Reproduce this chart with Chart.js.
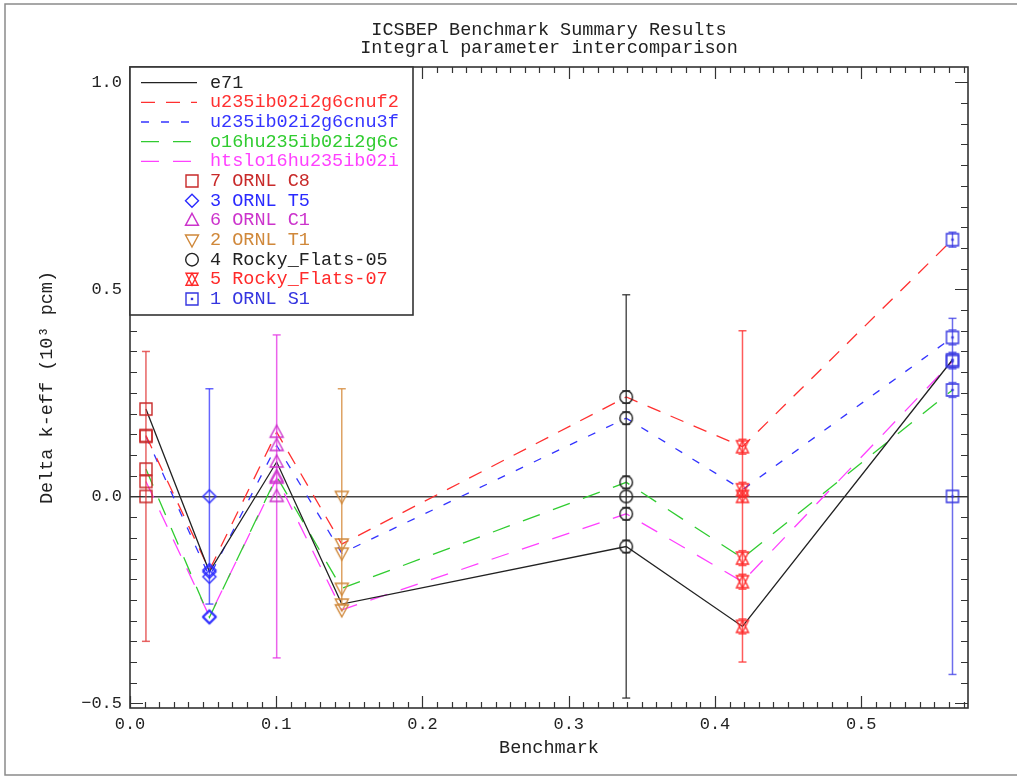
<!DOCTYPE html>
<html><head><meta charset="utf-8">
<script src="https://cdn.jsdelivr.net/npm/chart.js@4.4.0/dist/chart.umd.min.js"></script>
<style>html,body{margin:0;padding:0;background:#fff;}#wrap{width:1017px;height:776px;}</style>
</head><body><div id="wrap"><canvas id="c" width="1017" height="776"></canvas></div>
<script>
// ---------- data ----------
const titleLines = ['ICSBEP Benchmark Summary Results', 'Integral parameter intercomparison'];
const xTitle = 'Benchmark';
const yTitle = 'Delta k-eff (10\u00B3 pcm)';
const xTickLabels = ['0.0', '0.1', '0.2', '0.3', '0.4', '0.5'];
const yTickLabels = ['\u22120.5', '0.0', '0.5', '1.0'];

const benchNames = ['7 ORNL C8', '3 ORNL T5', '6 ORNL C1', '2 ORNL T1', '4 Rocky_Flats-05', '5 Rocky_Flats-07', '1 ORNL S1'];
const benchX = [0.0109, 0.0543, 0.1003, 0.1448, 0.3393, 0.4188, 0.5624];
const expValues = [0, 0, 0, 0, 0, 0, 0];
const expErrors = [0.35, 0.26, 0.39, 0.26, 0.487, 0.40, 0.43];
const calcErrors = [0, 0, 0, 0, 0.015, 0.018, 0.018];

const libNames = ['e71', 'u235ib02i2g6cnuf2', 'u235ib02i2g6cnu3f', 'o16hu235ib02i2g6c', 'htslo16hu235ib02i'];
const e71 = [0.211, -0.182, 0.083, -0.260, -0.121, -0.314, 0.330];
const cnuf2 = [0.147, -0.178, 0.155, -0.115, 0.240, 0.120, 0.620];
const cnu3f = [0.145, -0.194, 0.123, -0.137, 0.189, 0.016, 0.384];
const o16 = [0.066, -0.292, 0.048, -0.222, 0.034, -0.149, 0.257];
const htslo = [0.036, -0.290, 0.044, -0.274, -0.042, -0.206, 0.326];
const libValues = [e71, cnuf2, cnu3f, o16, htslo];

// ---------- styles ----------
const FONT = "'Liberation Mono', 'DejaVu Sans Mono', monospace";
const libColors = ['#222222', '#ff3030', '#3434ff', '#30cc30', '#ff40ff'];
const libDashes = [[], [14, 11], [8, 12], [18, 14], [18, 14]];
const benchMarkers = ['square', 'diamond', 'triangle', 'triangleDown', 'circle', 'hourglass', 'dotSquare'];
const benchColors = ['#c82a2a', '#2a2aff', '#cc33cc', '#d0883a', '#222222', '#ff2a2a', '#3535e0'];
const benchErrColors = ['rgba(225,60,60,0.8)', 'rgba(50,50,255,0.75)', 'rgba(230,60,230,0.8)', 'rgba(215,145,70,0.85)', 'rgba(40,40,40,0.8)', 'rgba(255,50,50,0.8)', 'rgba(60,60,230,0.75)'];

function drawMarker(ctx, type, cx, cy, color) {
  ctx.save();
  ctx.strokeStyle = color; ctx.fillStyle = color; ctx.lineWidth = 1.4; ctx.setLineDash([]);
  ctx.beginPath();
  const s = 6;
  switch (type) {
    case 'square': ctx.rect(cx - s, cy - s, 2 * s, 2 * s); break;
    case 'dotSquare': ctx.rect(cx - s, cy - s, 2 * s, 2 * s); ctx.stroke(); ctx.beginPath(); ctx.fillRect(cx - 1.2, cy - 1.2, 2.4, 2.4); break;
    case 'diamond': ctx.moveTo(cx, cy - 6.5); ctx.lineTo(cx + 6.5, cy); ctx.lineTo(cx, cy + 6.5); ctx.lineTo(cx - 6.5, cy); ctx.closePath(); break;
    case 'triangle': ctx.moveTo(cx, cy - 7); ctx.lineTo(cx + 6.5, cy + 5); ctx.lineTo(cx - 6.5, cy + 5); ctx.closePath(); break;
    case 'triangleDown': ctx.moveTo(cx, cy + 7); ctx.lineTo(cx + 6.5, cy - 5); ctx.lineTo(cx - 6.5, cy - 5); ctx.closePath(); break;
    case 'circle': ctx.arc(cx, cy, 6.3, 0, Math.PI * 2); break;
    case 'hourglass':
      ctx.moveTo(cx, cy - 6); ctx.lineTo(cx + 6, cy + 6); ctx.lineTo(cx - 6, cy + 6); ctx.closePath();
      ctx.moveTo(cx, cy + 6); ctx.lineTo(cx + 6, cy - 6); ctx.lineTo(cx - 6, cy - 6); ctx.closePath();
      break;
  }
  ctx.stroke();
  ctx.restore();
}
function markerCanvas(type, color) {
  const cv = document.createElement('canvas');
  cv.width = 18; cv.height = 18;
  drawMarker(cv.getContext('2d'), type, 9, 9, color);
  return cv;
}

// ---------- datasets ----------
const datasets = [];
libNames.forEach((name, i) => {
  datasets.push({
    type: 'line', label: name,
    data: benchX.map((x, j) => ({x: x, y: libValues[i][j]})),
    borderColor: libColors[i], borderDash: libDashes[i], borderWidth: 1.3,
    pointRadius: 0, pointHoverRadius: 0, fill: false, tension: 0, order: 3
  });
});
benchNames.forEach((name, j) => {
  const x = benchX[j];
  const pts = [{x: x, y: expValues[j] - expErrors[j]}, {x: x, y: expValues[j] + expErrors[j]}, {x: x, y: null}];
  if (calcErrors[j] > 0) {
    libValues.forEach(v => {
      pts.push({x: x, y: v[j] - calcErrors[j]}, {x: x, y: v[j] + calcErrors[j]}, {x: x, y: null});
    });
  }
  datasets.push({
    type: 'line', label: name + ' error', data: pts,
    borderColor: benchErrColors[j], borderWidth: 1.5, spanGaps: false,
    pointStyle: 'line', pointRadius: 4, pointBorderColor: benchErrColors[j], pointBorderWidth: 1.5,
    pointBackgroundColor: benchErrColors[j], fill: false, order: 2
  });
  datasets.push({
    type: 'scatter', label: name,
    data: libValues.map(v => ({x: x, y: v[j]})).concat([{x: x, y: expValues[j]}]),
    pointStyle: markerCanvas(benchMarkers[j], benchColors[j]), pointRadius: 7, order: 1
  });
});

// ---------- plugins ----------
const outerFrame = {
  id: 'outerFrame',
  beforeDraw(chart) {
    const ctx = chart.ctx;
    ctx.save();
    ctx.fillStyle = '#fff'; ctx.fillRect(0, 0, chart.width, chart.height);
    ctx.strokeStyle = '#8a8a8a'; ctx.lineWidth = 1.5;
    ctx.strokeRect(5, 4, 1030, 771);
    ctx.restore();
  }
};
const axisFrame = {
  id: 'axisFrame',
  afterDatasetsDraw(chart) {
    const {ctx, chartArea: a, scales: {x, y}} = chart;
    ctx.save();
    ctx.strokeStyle = '#333'; ctx.lineWidth = 1.6; ctx.setLineDash([]);
    ctx.strokeRect(a.left, a.top, a.right - a.left, a.bottom - a.top);
    ctx.lineWidth = 1.2;
    ctx.beginPath();
    x.ticks.forEach(t => {
      const major = Math.abs(t.value * 10 - Math.round(t.value * 10)) < 1e-6;
      const len = major ? 12 : 6;
      const px = Math.round(x.getPixelForValue(t.value)) + 0.5;
      ctx.moveTo(px, a.bottom); ctx.lineTo(px, a.bottom - len);
      ctx.moveTo(px, a.top); ctx.lineTo(px, a.top + len);
    });
    y.ticks.forEach(t => {
      const major = Math.abs(t.value * 2 - Math.round(t.value * 2)) < 1e-6;
      const len = major ? 13 : 7;
      const py = Math.round(y.getPixelForValue(t.value)) + 0.5;
      ctx.moveTo(a.left, py); ctx.lineTo(a.left + len, py);
      ctx.moveTo(a.right, py); ctx.lineTo(a.right - len, py);
    });
    ctx.stroke();
    ctx.restore();
  }
};
const legendBox = {
  id: 'legendBox',
  afterDraw(chart) {
    const {ctx, chartArea: a} = chart;
    const right = 413, bottom = 315;
    ctx.save();
    ctx.fillStyle = '#fff';
    ctx.fillRect(a.left, a.top, right - a.left, bottom - a.top);
    ctx.strokeStyle = '#333'; ctx.lineWidth = 1.6;
    ctx.strokeRect(a.left, a.top, right - a.left, bottom - a.top);
    ctx.font = '18.5px ' + FONT;
    ctx.textBaseline = 'middle'; ctx.textAlign = 'left';
    const y0 = 82.7, dy = 19.66, tx = 210;
    libNames.forEach((name, i) => {
      const yy = y0 + i * dy;
      ctx.strokeStyle = libColors[i]; ctx.lineWidth = 1.3; ctx.setLineDash(libDashes[i]);
      ctx.beginPath(); ctx.moveTo(141, yy); ctx.lineTo(197, yy); ctx.stroke();
      ctx.setLineDash([]);
      ctx.fillStyle = libColors[i];
      ctx.fillText(name, tx, yy);
    });
    benchNames.forEach((name, j) => {
      const yy = y0 + (j + libNames.length) * dy;
      drawMarker(ctx, benchMarkers[j], 192, yy, benchColors[j]);
      ctx.fillStyle = benchColors[j];
      ctx.fillText(name, tx, yy);
    });
    ctx.restore();
  }
};

const isMult = (v, step) => Math.abs(v / step - Math.round(v / step)) < 1e-6;

new Chart(document.getElementById('c'), {
  data: {datasets: datasets},
  options: {
    responsive: false, animation: false, events: [],
    layout: {padding: {left: 0, right: 49, top: 0, bottom: 0}},
    plugins: {
      legend: {display: false}, tooltip: {enabled: false},
      title: {
        display: true, text: titleLines, fullSize: false, color: '#222',
        font: {family: FONT, size: 18.5, weight: 'normal', lineHeight: 18 / 18.5},
        padding: {top: 21, bottom: 10}
      }
    },
    scales: {
      x: {
        type: 'linear', min: 0, max: 0.573,
        ticks: {
          stepSize: 0.01, autoSkip: false, maxRotation: 0, minRotation: 0, includeBounds: false,
          padding: 6, color: '#222', font: {family: FONT, size: 17},
          callback: v => isMult(v, 0.1) ? xTickLabels[Math.round(v * 10)] : ''
        },
        grid: {display: false, drawTicks: false},
        border: {display: false},
        title: {display: true, text: xTitle, color: '#222', font: {family: FONT, size: 18.5}, padding: {top: 0, bottom: 17}},
        afterFit: s => { s.height = 68; }
      },
      y: {
        type: 'linear', min: -0.511, max: 1.037,
        ticks: {
          stepSize: 0.05, autoSkip: false, includeBounds: false,
          padding: 8, color: '#222', font: {family: FONT, size: 17},
          callback: v => isMult(v, 0.5) ? yTickLabels[Math.round(v * 2) + 1] : ''
        },
        grid: {
          display: true, drawOnChartArea: true, drawTicks: false, lineWidth: 1.5,
          color: c => (c.tick && Math.abs(c.tick.value) < 1e-9) ? '#444' : 'rgba(0,0,0,0)'
        },
        border: {display: false},
        title: {display: true, text: yTitle, color: '#222', font: {family: FONT, size: 18.5}, padding: {top: 36, bottom: 0}},
        afterFit: s => { s.width = 130; }
      }
    }
  },
  plugins: [outerFrame, axisFrame, legendBox]
});
</script>
</body></html>
